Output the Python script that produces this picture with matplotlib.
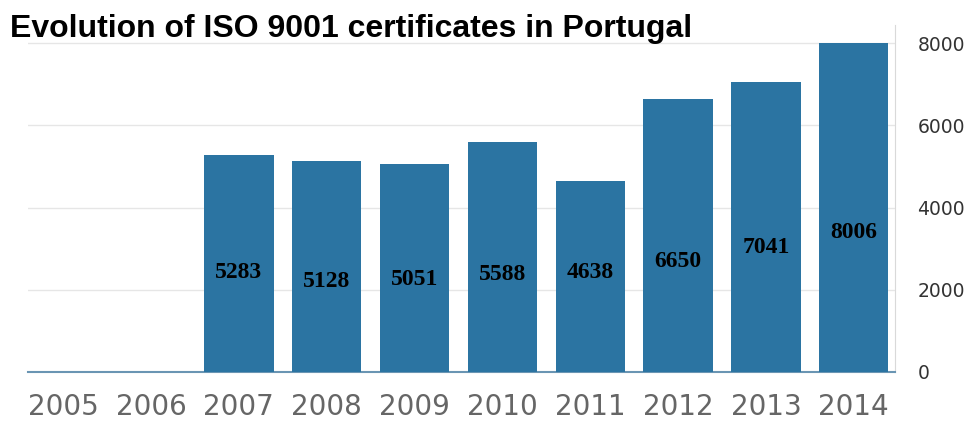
import matplotlib
matplotlib.use("Agg")
import matplotlib.pyplot as plt

years = ["2005", "2006", "2007", "2008", "2009", "2010", "2011", "2012", "2013", "2014"]
certificates = [0, 0, 5283, 5128, 5051, 5588, 4638, 6650, 7041, 8006]
labels = ["", "", "5283", "5128", "5051", "5588", "4638", "6650", "7041", "8006"]
yticks = [0, 2000, 4000, 6000, 8000]

# label vertical placement (data units), layout only
label_y = [0, 0, 2430, 2210, 2260, 2360, 2430, 2680, 3020, 3400]

fig = plt.figure(figsize=(9.65, 4.23), dpi=100)
ax = fig.add_axes([0.029, 0.1206, 0.8985, 0.8204])

x = list(range(len(years)))
ax.bar(x, certificates, width=0.79, color="#2b74a2", zorder=3)
for xi, lab, ly in zip(x, labels, label_y):
    if lab:
        ax.text(xi, ly, lab, ha="center", va="center", fontsize=17,
                fontweight="bold", family="Liberation Serif", color="black", zorder=4)

ax.set_xlim(-0.4, 9.47)
ax.set_ylim(0, 8440)
ax.set_yticks(yticks)
ax.set_yticklabels([str(t) for t in yticks])
ax.yaxis.tick_right()
ax.tick_params(axis="y", length=0, pad=16, labelsize=13.5, labelcolor="#333333")
ax.set_xticks(x)
ax.set_xticklabels(years)
ax.tick_params(axis="x", length=0, pad=15, labelsize=20, labelcolor="#666666")
for t in ax.get_yticklabels():
    t.set_horizontalalignment("left")

ax.grid(axis="y", color="#e6e6e6", linewidth=1, zorder=0)
ax.spines["top"].set_visible(False)
ax.spines["left"].set_visible(False)
ax.spines["right"].set_color("#d9d9d9")
ax.spines["bottom"].set_color("#6a95b3")
ax.spines["bottom"].set_linewidth(1.5)

fig.text(0.0104, 0.931, "Evolution of ISO 9001 certificates in Portugal",
         fontsize=23, fontweight="bold", family="Liberation Sans",
         ha="left", va="center", color="black")

fig.savefig("out.png", dpi=100)
